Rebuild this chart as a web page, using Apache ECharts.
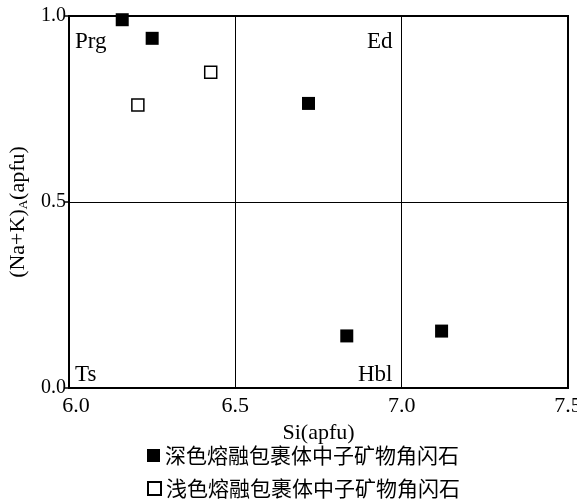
<!DOCTYPE html>
<html><head><meta charset="utf-8">
<script src="https://cdn.jsdelivr.net/npm/echarts@6/dist/echarts.min.js"></script>
<style>html,body{margin:0;padding:0;background:#fff}#c{width:577px;height:499px}</style>
</head><body><div id="c"></div>
<script>
const seriesNames = ['深色熔融包裹体中子矿物角闪石', '浅色熔融包裹体中子矿物角闪石'];
const darkPoints = [[6.16, 0.99], [6.25, 0.94], [6.72, 0.765], [6.835, 0.14], [7.12, 0.153]];
const lightPoints = [[6.207, 0.761], [6.426, 0.849]];
const xTicks = [6.0, 6.5, 7.0, 7.5];
const yTicks = [0.0, 0.5, 1.0];
const fieldLabels = ['Prg', 'Ed', 'Ts', 'Hbl'];

const serif = '"Liberation Serif", "DejaVu Serif", serif';
const cjk = '"Noto Sans CJK SC", sans-serif';
const chart = echarts.init(document.getElementById('c'));
chart.setOption({
  animation: false,
  backgroundColor: '#fff',
  grid: {left: 69, right: 9, top: 16, bottom: 111, show: true, borderColor: '#000', borderWidth: 2,
         backgroundColor: 'transparent', containLabel: false, outerBoundsMode: 'none'},
  xAxis: {
    type: 'value', min: xTicks[0], max: xTicks[xTicks.length - 1], interval: 0.5,
    name: 'Si(apfu)', nameLocation: 'middle', nameGap: 30,
    nameTextStyle: {fontFamily: serif, fontSize: 22, color: '#000'},
    axisLine: {show: false}, axisTick: {show: false},
    axisLabel: {fontFamily: serif, fontSize: 22, color: '#000', margin: 7,
      formatter: v => v === xTicks[0] ? '{f|' + v.toFixed(1) + '}' : v.toFixed(1),
      rich: {f: {fontFamily: serif, fontSize: 22, color: '#000', padding: [0, 0, 0, 14]}}},
    splitLine: {show: true, lineStyle: {color: '#000', width: 1}}
  },
  yAxis: {
    type: 'value', min: yTicks[0], max: yTicks[yTicks.length - 1], interval: 0.5,
    name: '{a|(Na+K)}{s|A}{a|(apfu)}', nameLocation: 'middle', nameGap: 35, nameRotate: 90,
    nameTextStyle: {padding: [0, 20, 0, 0], rich: {a: {fontFamily: serif, fontSize: 22, color: '#000'}, s: {fontFamily: serif, fontSize: 13, color: '#000', verticalAlign: 'bottom', padding: [10, 0, 0, 0]}}},
    axisLine: {show: true, lineStyle: {color: '#000', width: 2}},
    axisTick: {show: true, length: 4, lineStyle: {color: '#000', width: 1.5}},
    axisLabel: {fontFamily: serif, fontSize: 20, color: '#000', margin: 3, formatter: v => v.toFixed(1)},
    splitLine: {show: true, lineStyle: {color: '#000', width: 1}}
  },
  legend: [
    {left: 147, top: 445, padding: 0, itemWidth: 13, itemHeight: 13, itemGap: 10,
     textStyle: {fontFamily: cjk, fontSize: 21, color: '#000'}, data: [seriesNames[0]]},
    {left: 147, top: 478, padding: 0, itemWidth: 13, itemHeight: 13, itemGap: 10,
     textStyle: {fontFamily: cjk, fontSize: 21, color: '#000'}, data: [seriesNames[1]]}
  ],
  graphic: [
    {type: 'text', left: 75, top: 30, style: {text: fieldLabels[0], font: '23px ' + serif, fill: '#000'}},
    {type: 'text', left: 367, top: 30, style: {text: fieldLabels[1], font: '23px ' + serif, fill: '#000'}},
    {type: 'text', left: 75, top: 363, style: {text: fieldLabels[2], font: '23px ' + serif, fill: '#000'}},
    {type: 'text', left: 358, top: 363, style: {text: fieldLabels[3], font: '23px ' + serif, fill: '#000'}}
  ],
  series: [
    {name: seriesNames[0], type: 'scatter', symbol: 'rect', symbolSize: 13, data: darkPoints,
     itemStyle: {color: '#000', opacity: 1}},
    {name: seriesNames[1], type: 'scatter', symbol: 'rect', symbolSize: 12, data: lightPoints,
     itemStyle: {color: '#fff', borderColor: '#000', borderWidth: 1.5, opacity: 1}}
  ]
});
</script></body></html>
